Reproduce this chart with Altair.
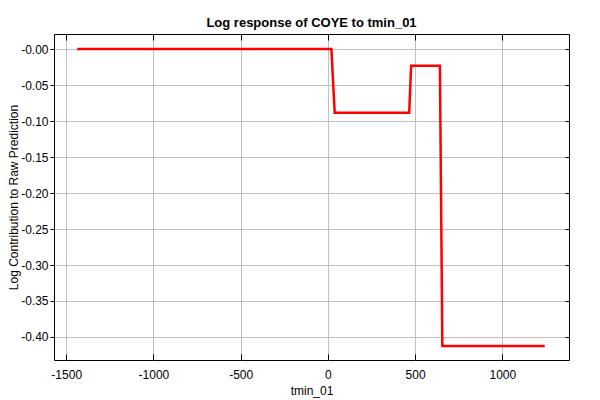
import altair as alt
import pandas as pd

# Response curve breakpoints
x_vals = [-1437, 20, 39, 466, 477, 642, 656, 1243]
y_vals = [0.0, 0.0, -0.0885, -0.0885, -0.023, -0.023, -0.4125, -0.4125]
x_ticks = [-1500, -1000, -500, 0, 500, 1000]
y_ticks = [-0.40, -0.35, -0.30, -0.25, -0.20, -0.15, -0.10, -0.05, 0.0]

df = pd.DataFrame({"tmin_01": x_vals, "resp": y_vals, "order": list(range(len(x_vals)))})

font = "Liberation Sans"
grid_color = "#c0c0c0"
xs = alt.Scale(domain=[-1570, 1382], nice=False, zero=False)
ys = alt.Scale(domain=[-0.432, 0.021], nice=False, zero=False)

line = alt.Chart(df).mark_line(color="#ff0000", strokeWidth=2.5, clip=True).encode(
    x=alt.X("tmin_01:Q", scale=xs, axis=alt.Axis(
        values=x_ticks, labelExpr="datum.value < 0 ? '-' + abs(datum.value) : '' + datum.value",
        orient="bottom", offset=-6, tickSize=6,
        tickColor="black", domain=False, grid=True, gridColor=grid_color,
        labelPadding=9, labelFont=font, labelFontSize=12, labelColor="black",
        title="tmin_01", titleFont=font, titleFontSize=12, titleFontWeight="normal",
        titleColor="black", titlePadding=5)),
    y=alt.Y("resp:Q", scale=ys, axis=alt.Axis(
        values=y_ticks, labelExpr="'-' + format(abs(datum.value), '.2f')",
        orient="left", tickSize=4, tickColor="black", domain=False, grid=True,
        gridColor=grid_color, labelPadding=2, labelFont=font, labelFontSize=12,
        labelColor="black", title="Log Contribution to Raw Prediction",
        titleFont=font, titleFontSize=12, titleFontWeight="normal", titleColor="black",
        titleX=-46, titleY=163, titleBaseline="top", titleAngle=-90)),
    order="order:Q",
)

frame = alt.Chart(df).mark_line(opacity=0).encode(
    x=alt.X("tmin_01:Q", scale=xs, axis=alt.Axis(
        values=x_ticks, orient="top", offset=-6, tickSize=6, tickColor="black",
        labels=False, domain=False, grid=False, title=None)),
    y=alt.Y("resp:Q", scale=ys, axis=alt.Axis(
        values=y_ticks, orient="right", offset=-4, tickSize=4, tickColor="black",
        labels=False, domain=False, grid=False, title=None)),
)

chart = alt.layer(frame, line).resolve_scale(x="independent", y="independent").properties(
    width=515, height=326,
    autosize=alt.AutoSizeParams(type="none"),
    padding={"left": 46, "top": 26, "right": 20, "bottom": 40},
    title=alt.Title("Log response of COYE to tmin_01", font=font, fontSize=13,
                    fontWeight="bold", color="black", offset=4, anchor="middle"),
).configure_view(stroke="black", strokeWidth=1)

chart.save("out.html", embed_options={"renderer": "svg", "actions": False})
